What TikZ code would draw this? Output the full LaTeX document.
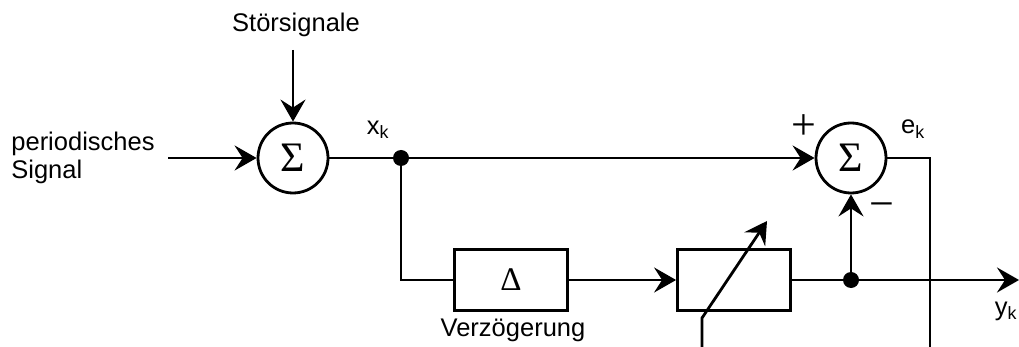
\documentclass[tikz,border=0pt]{standalone}
\usepackage{fontspec}
\setmainfont{Liberation Sans}
\newfontfamily\greekfont{Liberation Serif}
\usetikzlibrary{arrows.meta}

\begin{document}
\begin{tikzpicture}[x=1pt,y=1pt,line width=2.8pt,
	tip/.style={-{Stealth[length=22pt,width=25pt,inset=8pt]}},
	sumnode/.style={draw,circle,minimum size=70pt,inner sep=0pt,font=\greekfont\fontsize{42}{42}\selectfont},
	blockbox/.style={draw,rectangle,minimum width=113pt,minimum height=61pt,inner sep=0pt},
	junction/.style={circle,fill=black,minimum size=16pt,inner sep=0pt},
	sign/.style={font=\greekfont\fontsize{44}{44}\selectfont}]
	\tikzstyle{every node}+=[inner sep=0pt,font=\fontsize{25.5}{28}\selectfont]
	\useasboundingbox (0,0) rectangle (1019,-347);
	% summing points
	\node [sumnode] (sumA) at (293,-158) {Σ};
	\node [sumnode] (sumB) at (851,-158) {Σ};
	% blocks
	\node [blockbox,font=\greekfont\fontsize{33}{33}\selectfont] (delay) at (511,-280) {Δ};
	\node [blockbox] (adapt) at (734,-280) {};
	\node [junction] (jx) at (401,-158) {};
	\node [junction] (jy) at (851,-280) {};
	% texts
	\node [anchor=west,align=left] (insig) at (10,-158) {periodisches\\Signal};
	\node (noise) at (296,-25) {Störsignale};
	\node (xk) at (378,-130) {x\textsubscript{k}};
	\node (ek) at (913,-129) {e\textsubscript{k}};
	\node (yk) at (1006,-311) {y\textsubscript{k}};
	\node (delaytxt) at (513,-330) {Verzögerung};
	\node [sign] (plus) at (804,-127) {+};
	\node [sign] (minus) at (882,-211) {\char"2212};
	% free ends
	\coordinate (inL) at (168,-158);
	\coordinate (noiseT) at (293,-50);
	\coordinate (eC) at (930,-158);
	\coordinate (eB) at (930,-347);
	\coordinate (outR) at (1019,-280);
	\coordinate (adjL) at (702,-318);
	\coordinate (adjB) at (702,-347);
	\coordinate (adjT) at (767,-221);
	% connections
	\draw [tip] (inL) -- (sumA.west);
	\draw [tip] (noiseT) -- (sumA.north);
	\draw (sumA.east) -- (jx.center);
	\draw [tip] (jx.center) -- (sumB.west);
	\draw (jx.center) |- (delay.west);
	\draw [tip] (delay.east) -- (adapt.west);
	\draw (adapt.east) -- (jy.center);
	\draw [tip] (jy.center) -- (outR);
	\draw [tip] (jy.center) -- (sumB.south);
	\draw (sumB.east) -- (eC) -- (eB);
	\draw [tip] (adjB) -- (adjL) -- (adjT);
\end{tikzpicture}
\end{document}
